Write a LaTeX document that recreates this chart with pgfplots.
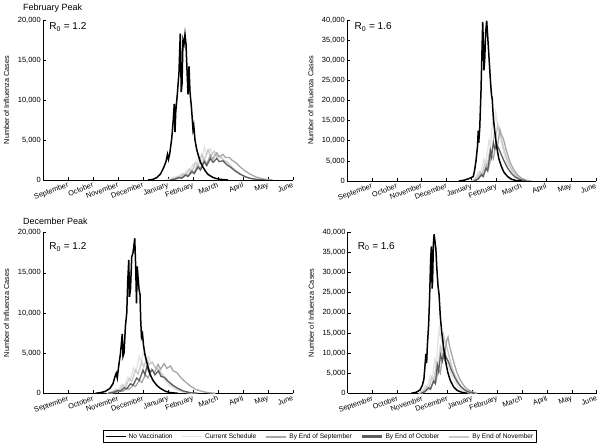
\documentclass[border=0pt]{standalone}
\usepackage{fontspec}
\setmainfont{Liberation Sans}
\usepackage{pgfplots}
\pgfplotsset{compat=1.18}
\definecolor{curc}{HTML}{E3E3E3}
\definecolor{sepc}{HTML}{A6A6A6}
\definecolor{octc}{HTML}{5E5E5E}
\definecolor{novc}{HTML}{C9C9C9}
\pgfplotsset{
  panel/.style={
    scale only axis, anchor=south west, clip mode=individual,
    xmin=0, xmax=10, ymin=0,
    axis x line*=bottom, axis y line*=left,
    axis line style={line width=0.9pt, -},
    xtick={1,...,10},
    xticklabels={September,October,November,December,January,February,March,April,May,June},
    xticklabel style={rotate=20, anchor=north east, font=\fontsize{7.3}{8}\selectfont, inner sep=1.5pt},
    yticklabel style={font=\fontsize{7.5}{8}\selectfont, inner sep=2pt},
    tick align=inside, major tick length=3pt,
    tick style={line width=0.6pt, black},
    scaled y ticks=false,
    /pgf/number format/1000 sep={,},
    /pgf/number format/assume math mode=true,
    ylabel={Number of Influenza Cases},
    every axis y label/.style={at={(axis description cs:-0.146,0.5)}, anchor=center, rotate=90, font=\fontsize{7.3}{8}\selectfont},
  },
  pcur/.style={curc, line width=1.3pt},
  psep/.style={sepc, line width=1.3pt},
  poct/.style={octc, line width=1.3pt},
  pnov/.style={novc, line width=1.3pt},
  pnv/.style={black, line width=1.5pt},
}
\begin{document}
\begin{tikzpicture}
\useasboundingbox (0pt,0pt) rectangle (600pt,445pt);
% ---------------- Top left: February peak, R0 = 1.2
\begin{axis}[panel, at={(43pt,265pt)}, width=250pt, height=160pt, ymax=20000, ytick={0,5000,10000,15000,20000}]
\addplot[pcur] coordinates {(4.9,0)(5.1,150)(5.25,350)(5.35,250)(5.5,700)(5.6,500)(5.75,1200)(5.85,900)(6.0,2000)(6.1,1500)(6.25,3000)(6.35,2300)(6.45,4100)(6.55,3200)(6.7,3900)(6.8,3100)(6.95,3400)(7.05,2700)(7.2,2700)(7.3,2200)(7.45,1900)(7.6,1400)(7.8,900)(8.0,500)(8.2,250)(8.4,100)(8.7,0)};
\addplot[pnov] coordinates {(5.0,0)(5.2,150)(5.35,400)(5.45,300)(5.6,800)(5.7,600)(5.85,1400)(5.95,1000)(6.1,2200)(6.2,1700)(6.35,3200)(6.45,2500)(6.6,3800)(6.7,3000)(6.85,3600)(6.95,2900)(7.1,3000)(7.2,2500)(7.35,2300)(7.5,1800)(7.7,1200)(7.9,750)(8.1,400)(8.3,200)(8.5,80)(8.8,0)};
\addplot[psep] coordinates {(5.1,0)(5.3,150)(5.45,350)(5.55,280)(5.7,700)(5.8,550)(5.95,1200)(6.05,950)(6.2,1800)(6.3,1450)(6.45,2500)(6.55,2000)(6.7,3100)(6.8,2600)(6.95,3400)(7.05,2900)(7.2,3200)(7.3,2800)(7.45,2800)(7.55,2500)(7.7,2200)(7.9,1600)(8.1,1100)(8.3,700)(8.5,400)(8.7,200)(8.9,80)(9.2,0)};
\addplot[poct] coordinates {(5.1,0)(5.3,120)(5.45,300)(5.55,220)(5.7,600)(5.8,450)(5.95,1000)(6.05,800)(6.2,1600)(6.3,1250)(6.45,2300)(6.55,1800)(6.7,2700)(6.8,2200)(6.95,2700)(7.05,2300)(7.2,2400)(7.35,1900)(7.5,1600)(7.7,1100)(7.9,700)(8.1,400)(8.3,200)(8.6,50)(8.9,0)};
\addplot[pnv] coordinates {(4.2,0)(4.4,80)(4.55,300)(4.7,750)(4.82,1500)(4.92,2300)(4.98,3200)(5.02,2600)(5.07,3300)(5.15,5200)(5.21,7500)(5.25,9500)(5.28,6000)(5.31,8500)(5.38,11000)(5.44,13500)(5.49,18300)(5.53,11000)(5.56,12000)(5.6,17500)(5.64,17000)(5.68,18200)(5.72,17000)(5.76,13800)(5.8,10700)(5.84,14200)(5.88,11000)(5.94,9000)(6.0,6300)(6.03,6800)(6.08,5000)(6.15,3800)(6.22,3000)(6.3,2200)(6.4,1600)(6.5,1100)(6.6,700)(6.75,400)(6.9,200)(7.1,80)(7.4,0)};
\node[anchor=north west, font=\fontsize{10}{12}\selectfont, inner sep=0pt] at (rel axis cs:0.025,0.985) {R\textsubscript{0} = 1.2};
\node[anchor=base west, font=\fontsize{9}{11}\selectfont, inner sep=0pt] at (rel axis cs:-0.08,1.0625) {February Peak};
\end{axis}
% ---------------- Top right: February peak, R0 = 1.6
\begin{axis}[panel, at={(347pt,264pt)}, width=249pt, height=161pt, ymax=40000, ytick={0,5000,...,40000}]
\addplot[pcur] coordinates {(5.0,0)(5.15,800)(5.3,2500)(5.38,2000)(5.5,5500)(5.58,4500)(5.7,10000)(5.76,8500)(5.85,15500)(5.9,13500)(5.97,17000)(6.03,14500)(6.1,12500)(6.2,9500)(6.3,7000)(6.4,5000)(6.5,3500)(6.65,2000)(6.8,1000)(7.0,300)(7.2,0)};
\addplot[pnov] coordinates {(5.05,0)(5.2,700)(5.35,2200)(5.43,1700)(5.55,4500)(5.63,3700)(5.75,8000)(5.82,6800)(5.92,12000)(5.98,10500)(6.05,14000)(6.12,12500)(6.2,10500)(6.3,8000)(6.4,6000)(6.5,4300)(6.65,2500)(6.8,1300)(7.0,400)(7.2,0)};
\addplot[psep] coordinates {(5.1,0)(5.25,500)(5.4,1800)(5.48,1400)(5.6,3800)(5.68,3000)(5.8,6500)(5.88,5500)(5.98,9500)(6.04,8500)(6.14,12800)(6.2,11500)(6.28,10500)(6.38,8000)(6.48,6000)(6.58,4200)(6.7,2800)(6.85,1500)(7.0,700)(7.2,200)(7.4,0)};
\addplot[poct] coordinates {(5.1,0)(5.25,400)(5.4,1500)(5.47,1100)(5.58,3200)(5.65,2500)(5.76,7500)(5.8,6000)(5.88,9500)(5.94,8000)(6.02,9000)(6.1,8000)(6.2,6500)(6.32,4800)(6.45,3200)(6.6,1900)(6.75,1000)(6.95,350)(7.2,0)};
\addplot[pnv] coordinates {(4.5,0)(4.7,200)(4.9,600)(5.0,900)(5.07,1100)(5.12,2500)(5.18,5000)(5.24,8500)(5.27,12500)(5.29,9500)(5.33,13000)(5.38,22000)(5.42,32000)(5.45,39500)(5.48,33000)(5.5,27500)(5.53,30000)(5.57,37000)(5.61,39800)(5.65,36000)(5.7,31000)(5.76,25000)(5.8,21500)(5.83,20500)(5.88,15500)(5.95,11500)(6.01,8500)(6.1,5500)(6.2,3600)(6.3,2200)(6.45,1100)(6.6,450)(6.8,100)(7.0,0)};
\node[anchor=north west, font=\fontsize{10}{12}\selectfont, inner sep=0pt] at (rel axis cs:0.03,0.985) {R\textsubscript{0} = 1.6};
\end{axis}
% ---------------- Bottom left: December peak, R0 = 1.2
\begin{axis}[panel, at={(43pt,51.7pt)}, width=250pt, height=160.6pt, ymax=20000, ytick={0,5000,10000,15000,20000},
  legend columns=-1,
  legend style={at={(rel axis cs:0.24,-0.2285)}, anchor=north west, draw=black, line width=0.8pt,
    font=\fontsize{6.6}{7.5}\selectfont, inner xsep=1.5pt, inner ysep=1pt,
    /tikz/every even column/.append style={column sep=7pt}},
  legend image code/.code={\draw[#1] (0pt,0pt) -- (20pt,0pt);},
  legend cell align=left]
\addlegendimage{black, line width=1.8pt}\addlegendentry{No Vaccination}
\addlegendimage{curc, line width=1.4pt}\addlegendentry{Current Schedule}
\addlegendimage{sepc, line width=2pt}\addlegendentry{By End of September}
\addlegendimage{octc, line width=2.4pt}\addlegendentry{By End of October}
\addlegendimage{novc, line width=2pt}\addlegendentry{By End of November}
\addplot[pcur, forget plot] coordinates {(2.55,0)(2.75,200)(2.9,500)(3.0,400)(3.15,1100)(3.25,900)(3.4,2000)(3.5,1700)(3.62,3200)(3.72,2700)(3.85,4600)(3.93,3900)(4.02,5300)(4.1,4400)(4.22,4600)(4.32,3800)(4.45,3500)(4.6,2800)(4.75,2100)(4.9,1500)(5.1,900)(5.3,500)(5.5,250)(5.75,80)(6.0,0)};
\addplot[pnov, forget plot] coordinates {(2.6,0)(2.8,200)(2.95,450)(3.05,350)(3.2,1000)(3.3,800)(3.45,1800)(3.55,1500)(3.7,2900)(3.8,2400)(3.95,3900)(4.03,3300)(4.15,4300)(4.25,3600)(4.38,3900)(4.48,3200)(4.62,3000)(4.78,2300)(4.95,1700)(5.15,1000)(5.35,600)(5.6,250)(5.9,60)(6.2,0)};
\addplot[psep, forget plot] coordinates {(2.7,0)(2.95,150)(3.1,300)(3.2,250)(3.35,600)(3.45,500)(3.6,1000)(3.7,850)(3.85,1600)(3.95,1350)(4.1,2300)(4.2,1900)(4.35,3000)(4.45,2500)(4.6,3600)(4.7,3000)(4.85,3700)(4.95,3100)(5.1,3400)(5.2,2800)(5.35,2600)(5.5,2000)(5.7,1400)(5.9,900)(6.1,500)(6.35,250)(6.6,80)(6.9,0)};
\addplot[poct, forget plot] coordinates {(2.6,0)(2.85,150)(3.0,350)(3.1,250)(3.25,700)(3.35,550)(3.5,1200)(3.6,1000)(3.75,1900)(3.85,1600)(4.0,2900)(4.08,2300)(4.15,3300)(4.25,2600)(4.38,2900)(4.48,2300)(4.62,2800)(4.72,2100)(4.85,2000)(5.0,1500)(5.2,1000)(5.4,600)(5.6,300)(5.85,100)(6.2,0)};
\addplot[pnv, forget plot] coordinates {(2.1,0)(2.3,80)(2.5,250)(2.68,620)(2.8,1200)(2.88,2100)(2.93,2500)(2.97,1900)(3.02,3200)(3.1,5000)(3.17,7400)(3.2,4600)(3.24,5000)(3.3,8500)(3.35,10000)(3.39,14000)(3.43,16600)(3.46,12000)(3.5,13000)(3.55,17000)(3.6,17500)(3.64,18500)(3.67,19300)(3.71,15500)(3.74,11200)(3.77,15800)(3.8,14500)(3.84,13000)(3.88,12300)(3.91,9000)(3.94,7000)(3.98,7400)(4.02,6000)(4.08,4800)(4.15,3900)(4.28,2400)(4.4,1600)(4.55,1000)(4.7,600)(4.9,250)(5.1,80)(5.4,0)};
\node[anchor=north west, font=\fontsize{10}{12}\selectfont, inner sep=0pt] at (rel axis cs:0.025,0.94) {R\textsubscript{0} = 1.2};
\node[anchor=base west, font=\fontsize{9}{11}\selectfont, inner sep=0pt] at (rel axis cs:-0.08,1.048) {December Peak};
\end{axis}
% ---------------- Bottom right: December peak, R0 = 1.6
\begin{axis}[panel, at={(347.7pt,51.7pt)}, width=249pt, height=161pt, ymax=40000, ytick={0,5000,...,40000}]
\addplot[pcur] coordinates {(2.85,0)(3.0,600)(3.12,2000)(3.2,1600)(3.32,4500)(3.4,3800)(3.5,8500)(3.56,7000)(3.63,13000)(3.68,16200)(3.73,14000)(3.8,12500)(3.9,10000)(4.0,7800)(4.1,5800)(4.2,4000)(4.32,2600)(4.45,1500)(4.6,700)(4.8,200)(5.0,0)};
\addplot[pnov] coordinates {(2.9,0)(3.05,500)(3.18,1700)(3.26,1300)(3.38,4000)(3.46,3200)(3.57,7500)(3.64,6200)(3.72,11500)(3.78,10000)(3.85,14500)(3.92,12500)(4.0,11000)(4.1,8500)(4.2,6200)(4.32,4300)(4.45,2700)(4.6,1400)(4.78,600)(5.0,150)(5.2,0)};
\addplot[psep] coordinates {(2.95,0)(3.1,400)(3.25,1400)(3.33,1100)(3.45,3200)(3.53,2600)(3.65,6000)(3.72,5000)(3.82,9500)(3.88,8500)(3.97,13000)(4.03,14000)(4.08,12000)(4.17,9800)(4.27,7500)(4.38,5300)(4.5,3500)(4.65,2000)(4.8,1000)(4.98,400)(5.2,0)};
\addplot[poct] coordinates {(2.95,0)(3.1,400)(3.25,1300)(3.32,1000)(3.45,3000)(3.52,2400)(3.6,7000)(3.65,5500)(3.73,9500)(3.8,8000)(3.88,10500)(3.95,9000)(4.05,7800)(4.15,6000)(4.27,4300)(4.4,2800)(4.55,1600)(4.72,700)(4.9,250)(5.1,0)};
\addplot[pnv] coordinates {(2.55,0)(2.75,250)(2.9,800)(3.0,2000)(3.06,3500)(3.1,6500)(3.14,9800)(3.17,7500)(3.2,12000)(3.25,17000)(3.29,24000)(3.33,33000)(3.36,36500)(3.39,26000)(3.41,28000)(3.44,37000)(3.47,39500)(3.5,38000)(3.54,36000)(3.58,31000)(3.63,26500)(3.67,24500)(3.72,19000)(3.78,15000)(3.85,11500)(3.93,8000)(4.02,5200)(4.12,3200)(4.25,1600)(4.4,700)(4.6,200)(4.8,0)};
\node[anchor=north west, font=\fontsize{10}{12}\selectfont, inner sep=0pt] at (rel axis cs:0.04,0.94) {R\textsubscript{0} = 1.6};
\end{axis}
\end{tikzpicture}
\end{document}
